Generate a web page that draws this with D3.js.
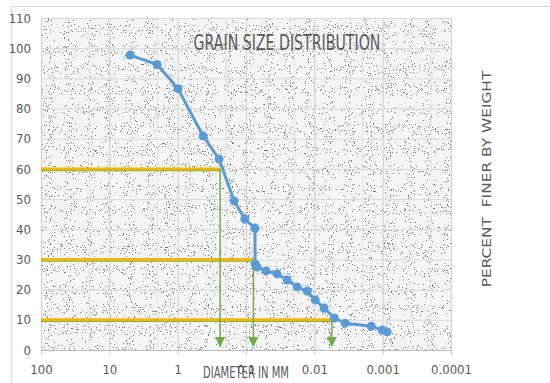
<!DOCTYPE html>
<html><head><meta charset="utf-8">
<script src="https://cdn.jsdelivr.net/npm/d3@7"></script>
<style>body{margin:0;background:#fff}svg{display:block}</style>
</head><body>
<svg id="c" width="550" height="383"></svg>
<script>
// ---- data ----
const diameters = [4.97, 2.0, 0.99, 0.425, 0.248, 0.149, 0.104, 0.074, 0.0735, 0.0688, 0.0508, 0.0351, 0.025, 0.0179, 0.0127, 0.0097, 0.0072, 0.0051, 0.00354, 0.00147, 0.00102, 0.00086];
const percents  = [97.7, 94.6, 86.6, 70.9, 63.3, 49.4, 43.4, 40.4, 28.5, 27.5, 26.2, 25.2, 23.2, 20.9, 19.5, 16.6, 13.9, 10.6, 8.9, 7.9, 6.6, 6.0];
const refPercents = [60, 30, 10];
const refDiameters = [0.239, 0.078, 0.00555];
const xTicks = [100, 10, 1, 0.1, 0.01, 0.001, 0.0001];
const xTickLabels = ["100", "10", "1", "0.1", "0.01", "0.001", "0.0001"];
const yTicks = [0, 10, 20, 30, 40, 50, 60, 70, 80, 90, 100, 110];
const minorX = [20, 2, 0.2, 0.02, 0.002, 0.0002];

const svg = d3.select("#c");
const L = 41, R = 451, T = 18, B = 350;
const x = d3.scaleLog().domain([100, 0.0001]).range([L, R]);
const y = d3.scaleLinear().domain([0, 110]).range([B, T]);
const grey = "#595959";
const cond = "'DejaVu Sans Condensed', 'Liberation Sans Narrow', 'Open Sans', sans-serif";

// outer frame
svg.append("rect").attr("x", 11.5).attr("y", 6.5).attr("width", 548).attr("height", 400)
  .attr("fill", "#fff").attr("stroke", "#d9d9d9");

// speckle texture
const defs = svg.append("defs");
const f = defs.append("filter").attr("id", "speck").attr("x", 0).attr("y", 0).attr("width", 1).attr("height", 1);
f.append("feTurbulence").attr("type", "fractalNoise").attr("baseFrequency", "0.95").attr("numOctaves", 2).attr("seed", 3).attr("result", "n");
f.append("feColorMatrix").attr("in", "n").attr("type", "matrix")
  .attr("values", "0 0 0 0 0  0 0 0 0 0  0 0 0 0 0  30 0 0 0 -20.4");
svg.append("rect").attr("x", L).attr("y", T).attr("width", R - L).attr("height", B - T)
  .attr("fill", "#f5f5f5");
svg.append("rect").attr("x", L).attr("y", T).attr("width", R - L).attr("height", B - T)
  .attr("filter", "url(#speck)").attr("opacity", 0.5);

// grid
const g = svg.append("g");
g.selectAll("line.h").data(yTicks).join("line")
  .attr("x1", L).attr("x2", R).attr("y1", d => y(d) + .5).attr("y2", d => y(d) + .5)
  .attr("stroke", "#d9d9d9").attr("stroke-width", 1);
g.selectAll("line.v").data(xTicks).join("line")
  .attr("y1", T).attr("y2", B + 5).attr("x1", d => x(d) + .5).attr("x2", d => x(d) + .5)
  .attr("stroke", "#d0d0d0").attr("stroke-width", 1);
g.selectAll("line.m").data(minorX).join("line")
  .attr("y1", T).attr("y2", B).attr("x1", d => x(d) + .5).attr("x2", d => x(d) + .5)
  .attr("stroke", "#e4e4e4").attr("stroke-width", 1);
g.append("line").attr("x1", L).attr("x2", R).attr("y1", B + .5).attr("y2", B + .5).attr("stroke", "#bfbfbf");

// axes labels
const yAxis = d3.axisLeft(y).tickValues(yTicks).tickSize(0).tickPadding(10);
svg.append("g").attr("transform", `translate(${L},0)`).call(yAxis)
  .call(s => s.select(".domain").remove())
  .selectAll("text").attr("fill", grey).style("font", "13px " + cond);
const xAxis = d3.axisBottom(x).tickValues(xTicks).tickFormat((d, i) => xTickLabels[i]).tickSize(0).tickPadding(15);
svg.append("g").attr("transform", `translate(0,${B})`).call(xAxis)
  .call(s => s.select(".domain").remove())
  .selectAll("text").attr("fill", grey).style("font", "13px " + cond);

// reference lines
refPercents.forEach((p, i) => {
  svg.append("line").attr("x1", L).attr("x2", x(refDiameters[i])).attr("y1", y(p) + 1.5).attr("y2", y(p) + 1.5)
    .attr("stroke", "#70ad47").attr("stroke-width", 1.5);
  svg.append("line").attr("x1", L).attr("x2", x(refDiameters[i])).attr("y1", y(p)).attr("y2", y(p))
    .attr("stroke", "#f2b705").attr("stroke-width", 3);
});
defs.append("marker").attr("id", "arr").attr("viewBox", "0 0 10 10").attr("refX", 9).attr("refY", 5)
  .attr("markerWidth", 7).attr("markerHeight", 7).attr("orient", "auto")
  .append("path").attr("d", "M0,0 L10,5 L0,10 z").attr("fill", "#70ad47");
refDiameters.forEach((d, i) => {
  svg.append("line").attr("x1", x(d)).attr("x2", x(d)).attr("y1", y(refPercents[i])).attr("y2", B - 4)
    .attr("stroke", "#70ad47").attr("stroke-width", 1.5).attr("marker-end", "url(#arr)");
});

// series
const pts = diameters.map((d, i) => [d, percents[i]]);
svg.append("path").datum(pts)
  .attr("d", d3.line().x(d => x(d[0])).y(d => y(d[1])))
  .attr("fill", "none").attr("stroke", "#5b9bd5").attr("stroke-width", 3).attr("stroke-linejoin", "round");
svg.selectAll("circle.p").data(pts).join("circle")
  .attr("cx", d => x(d[0])).attr("cy", d => y(d[1])).attr("r", 4.5).attr("fill", "#5b9bd5");

// scaled text helper: squeeze horizontally to a target width
function squeezed(cx, cy, w, font, str, rot) {
  const gg = svg.append("g");
  const t = gg.append("text").attr("text-anchor", "middle").attr("fill", grey)
    .style("font", font).style("white-space", "pre").text(str);
  const len = t.node().getComputedTextLength();
  const s = w / len;
  gg.attr("transform", `translate(${cx},${cy})` + (rot ? ` rotate(${rot})` : "") + ` scale(${s},1)`);
  return t;
}
squeezed(287, 50, 187, "21px " + cond, "GRAIN SIZE DISTRIBUTION");
squeezed(246, 378, 86, "16px " + cond, "DIAMETER IN MM");
squeezed(491, 179, 217, "11.5px 'DejaVu Sans', sans-serif", "PERCENT  FINER BY WEIGHT", -90);
</script>
</body></html>
